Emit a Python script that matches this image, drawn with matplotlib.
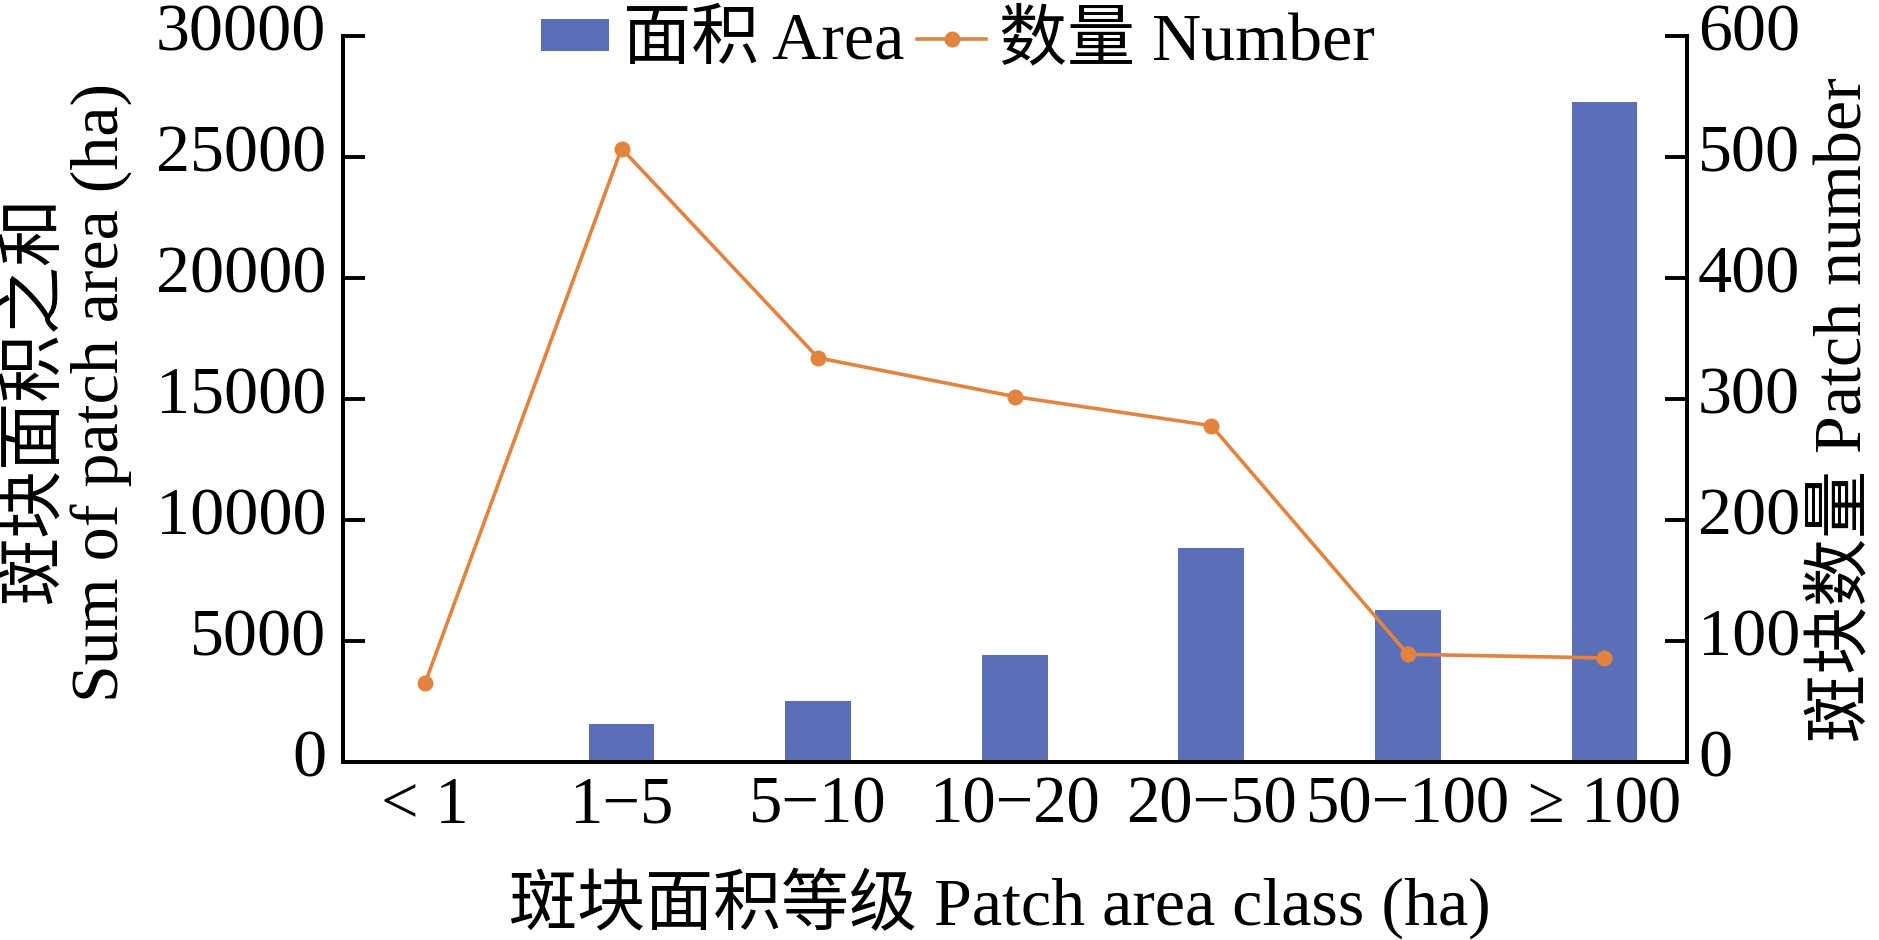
import matplotlib
matplotlib.use('Agg')
import matplotlib.pyplot as plt
from matplotlib.transforms import ScaledTranslation
import numpy as np

plt.rcParams['font.family'] = ['Liberation Serif', 'Noto Sans CJK SC']
plt.rcParams['axes.unicode_minus'] = False

# data
classes = ['< 1', '1\u22125', '5\u221210', '10\u221220', '20\u221250', '50\u2212100', '\u2265 100']
area = [80, 1570, 2520, 4420, 8830, 6280, 27260]      # ha, left axis
number = [65, 507, 334, 302, 278, 89, 86]             # patches, right axis

W, H = 1879, 940
fig = plt.figure(figsize=(W/100, H/100), dpi=100)
ax = fig.add_axes([343/W, 1-762/H, 1344/W, 726/H])

x = np.arange(len(classes))
bars = ax.bar(x, area, width=0.335, color='#5A6FB5', label='面积 Area', zorder=2)
ax.set_xlim(-0.417, 6.42)
ax.set_ylim(0, 30000)
ax.set_yticks(range(0, 30001, 5000))
ax.set_xticks(x)
ax.set_xticklabels(classes)

ax2 = ax.twinx()
line, = ax2.plot(x, number, color='#E2843F', lw=2.6, marker='o', ms=10.5,
                 label='数量 Number')
ax2.set_ylim(0, 600)
ax2.set_yticks(range(0, 601, 100))

for a in (ax, ax2):
    a.spines['top'].set_visible(False)
    for s in a.spines.values():
        s.set_linewidth(2.8)
ax.tick_params(axis='y', direction='in', length=16, width=2.8, labelsize=49, pad=12)
ax.tick_params(axis='x', length=0, labelsize=48, pad=10)
ax2.tick_params(axis='y', direction='in', length=16, width=2.8, labelsize=49, pad=8)

# tick labels sit a little above their ticks in the original
up = ScaledTranslation(0, 9/100, fig.dpi_scale_trans)
for lbl in ax.get_yticklabels() + ax2.get_yticklabels():
    lbl.set_transform(lbl.get_transform() + up)

fs = 49
fig.text(1000/W, 1-903/H, '斑块面积等级 Patch area class (ha)', fontsize=fs,
         ha='center', va='center')
fig.text(36/W, 1-400/H, '斑块面积之和', fontsize=fs, rotation=90,
         ha='center', va='center')
fig.text(102/W, 1-392/H, 'Sum of patch area (ha)', fontsize=fs, rotation=90,
         ha='center', va='center')
fig.text(1843/W, 1-410/H, '斑块数量 Patch number', fontsize=fs, rotation=90,
         ha='center', va='center')

fig.legend(handles=[bars, line], loc='center', bbox_to_anchor=(958/W, 1-42/H),
           ncol=2, frameon=False, fontsize=fs, handlelength=1.0, handleheight=0.35,
           handletextpad=0.2, columnspacing=0.2, borderpad=0)

fig.savefig('out.png', dpi=100)
